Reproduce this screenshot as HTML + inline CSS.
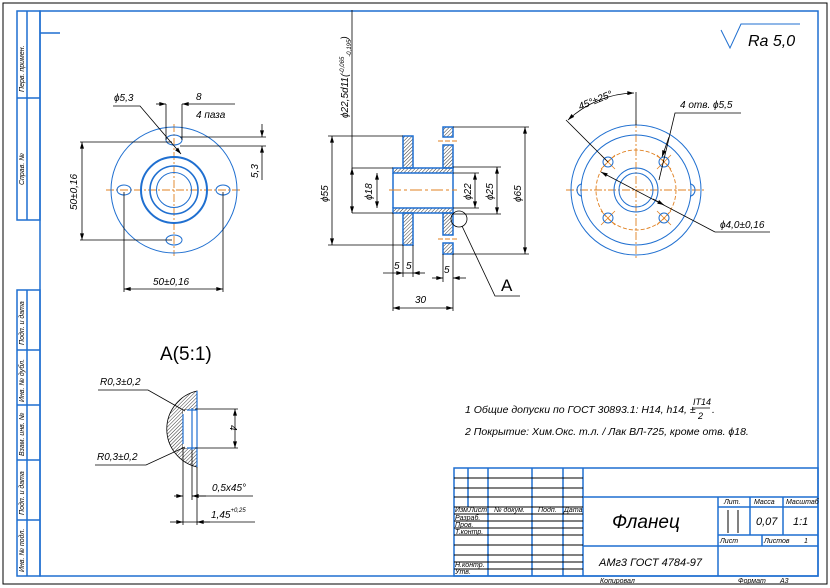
<!DOCTYPE html>
<html><head><meta charset="utf-8"><style>
html,body{margin:0;padding:0;background:#fff;}
svg{display:block;}
text{font-family:"Liberation Sans",sans-serif;font-style:italic;fill:#000;}
</style></head><body>
<svg width="830" height="588" viewBox="0 0 830 588" xmlns="http://www.w3.org/2000/svg">
<defs>
<pattern id="h" width="2.5" height="2.5" patternUnits="userSpaceOnUse" patternTransform="rotate(45)">
<line x1="0" y1="0" x2="0" y2="2.5" stroke="#000" stroke-width="0.8"/>
</pattern>
<marker id="a" viewBox="0 0 10 6" refX="10" refY="3" markerWidth="8" markerHeight="4" orient="auto-start-reverse" markerUnits="userSpaceOnUse"><path d="M0,0L10,3L0,6z" fill="#000"/></marker>
</defs>
<rect width="830" height="588" fill="#fff"/>
<rect x="3" y="3" width="824" height="581" fill="none" stroke="#000" stroke-width="1"/>
<g stroke="#1f6fd0" stroke-width="1.5" fill="none">
<rect x="40" y="11" width="778" height="565"/>
<rect x="17" y="11" width="23" height="209"/>
<line x1="27" y1="11" x2="27" y2="220"/>
<line x1="17" y1="98" x2="40" y2="98"/>
<line x1="40" y1="33" x2="60" y2="33"/>
<rect x="17" y="290" width="23" height="286"/>
<line x1="27" y1="290" x2="27" y2="576"/>
<line x1="17" y1="350" x2="40" y2="350"/>
<line x1="17" y1="405" x2="40" y2="405"/>
<line x1="17" y1="460" x2="40" y2="460"/>
<line x1="17" y1="520" x2="40" y2="520"/>
<rect x="454" y="468" width="364" height="108"/>
<line x1="583" y1="468" x2="583" y2="576"/>
<line x1="583" y1="497" x2="818" y2="497"/>
<line x1="468" y1="468" x2="468" y2="507"/>
<line x1="488" y1="468" x2="488" y2="576"/>
<line x1="532" y1="468" x2="532" y2="576"/>
<line x1="563" y1="468" x2="563" y2="576"/>
<line x1="583" y1="546" x2="818" y2="546"/>
<line x1="718" y1="497" x2="718" y2="576"/>
<line x1="750" y1="497" x2="750" y2="535"/>
<line x1="783" y1="497" x2="783" y2="535"/>
<line x1="718" y1="507" x2="818" y2="507"/>
<line x1="718" y1="535" x2="818" y2="535"/>
<line x1="762" y1="535" x2="762" y2="546"/>
</g>
<g stroke="#000" stroke-width="1">
<line x1="454" y1="478" x2="583" y2="478"/>
<line x1="454" y1="488" x2="583" y2="488"/>
<line x1="454" y1="497" x2="583" y2="497"/>
<line x1="454" y1="507" x2="583" y2="507"/>
<line x1="454" y1="514" x2="583" y2="514"/>
<line x1="454" y1="521" x2="583" y2="521"/>
<line x1="454" y1="528" x2="583" y2="528"/>
<line x1="454" y1="535" x2="583" y2="535"/>
<line x1="454" y1="545" x2="583" y2="545"/>
<line x1="454" y1="555" x2="583" y2="555"/>
<line x1="454" y1="562" x2="583" y2="562"/>
<line x1="454" y1="569" x2="583" y2="569"/>
<line x1="728" y1="510" x2="728" y2="533"/>
<line x1="738" y1="510" x2="738" y2="533"/>
</g>
<g font-size="7">
<text x="455" y="512">Изм.</text><text x="469" y="512">Лист</text><text x="494" y="512">№ докум.</text><text x="538" y="512">Подп.</text><text x="564" y="512">Дата</text>
<text x="455" y="520">Разраб.</text><text x="455" y="527">Пров.</text><text x="455" y="534">Т.контр.</text>
<text x="455" y="567">Н.контр.</text><text x="455" y="574">Утв.</text>
<text x="724" y="504">Лит.</text><text x="754" y="504">Масса</text><text x="786" y="504">Масштаб</text>
<text x="720" y="543">Лист</text><text x="764" y="543">Листов</text><text x="804" y="543">1</text>
<text x="600" y="583">Копировал</text><text x="738" y="583">Формат</text><text x="780" y="583">A3</text>
</g>
<text x="612" y="528" font-size="19">Фланец</text>
<text x="599" y="566" font-size="11">АМг3 ГОСТ 4784-97</text>
<text x="756" y="525" font-size="11">0,07</text>
<text x="793" y="525" font-size="11">1:1</text>
<g font-size="7">
<text transform="translate(24,92) rotate(-90)">Перв. примен.</text>
<text transform="translate(24,185) rotate(-90)">Справ. №</text>
<text transform="translate(24,345) rotate(-90)">Подп. и дата</text>
<text transform="translate(24,402) rotate(-90)">Инв. № дубл.</text>
<text transform="translate(24,456) rotate(-90)">Взам. инв. №</text>
<text transform="translate(24,515) rotate(-90)">Подп. и дата</text>
<text transform="translate(24,572) rotate(-90)">Инв. № подл.</text>
</g>
<path d="M721,30L730,48L741,24H800" fill="none" stroke="#1f6fd0" stroke-width="1"/>
<text x="748" y="46" font-size="16">Ra 5,0</text>

<!-- LEFT VIEW -->
<g stroke="#e08020" stroke-width="0.9" stroke-dasharray="8,2,2,2">
<line x1="106" y1="190" x2="242" y2="190"/>
<line x1="174" y1="124" x2="174" y2="256"/>
</g>
<g stroke="#1f6fd0" fill="none">
<circle cx="174" cy="190" r="63" stroke-width="1"/>
<circle cx="174" cy="190" r="33" stroke-width="2"/>
<circle cx="174" cy="190" r="24" stroke-width="1.6"/>
<circle cx="174" cy="190" r="17.5" stroke-width="1"/>
<ellipse cx="174" cy="140" rx="8" ry="5" stroke-width="1"/>
<ellipse cx="174" cy="240" rx="8" ry="5" stroke-width="1"/>
<ellipse cx="124" cy="190" rx="7" ry="5" stroke-width="1"/>
<ellipse cx="223" cy="190" rx="7" ry="5" stroke-width="1"/>
</g>
<g stroke="#000" stroke-width="0.8" fill="none">
<line x1="80" y1="142" x2="172" y2="142"/>
<line x1="80" y1="240" x2="172" y2="240"/>
<line x1="82" y1="142" x2="82" y2="240" marker-start="url(#a)" marker-end="url(#a)"/>
<line x1="124" y1="192" x2="124" y2="292"/>
<line x1="223" y1="192" x2="223" y2="292"/>
<line x1="124" y1="289" x2="223" y2="289" marker-start="url(#a)" marker-end="url(#a)"/>
<polyline points="113,106 140,106 181,154" marker-end="url(#a)"/>
<line x1="166" y1="104" x2="166" y2="140"/>
<line x1="182" y1="104" x2="182" y2="140"/>
<line x1="156" y1="104" x2="166" y2="104" marker-end="url(#a)"/>
<line x1="235" y1="104" x2="182" y2="104" marker-end="url(#a)"/>
<line x1="180" y1="137" x2="266" y2="137"/>
<line x1="180" y1="146" x2="266" y2="146"/>
<line x1="262" y1="124" x2="262" y2="137" marker-end="url(#a)"/>
<line x1="262" y1="180" x2="262" y2="146" marker-end="url(#a)"/>
</g>
<g font-size="10">
<text x="114" y="101">ϕ5,3</text>
<text x="196" y="100">8</text>
<text x="196" y="118">4 паза</text>
<text transform="translate(77,210) rotate(-90)">50±0,16</text>
<text x="153" y="285">50±0,16</text>
<text transform="translate(258,178) rotate(-90)">5,3</text>
</g>

<!-- SECTION VIEW -->
<g fill="url(#h)" stroke="#1f6fd0" stroke-width="1.5">
<rect x="393" y="168" width="60" height="5"/>
<rect x="403" y="136" width="10" height="32"/>
<rect x="443" y="127" width="10" height="10"/>
<rect x="443" y="145" width="10" height="23"/>
<rect x="393" y="208" width="60" height="5"/>
<rect x="403" y="213" width="10" height="32"/>
<rect x="443" y="213" width="10" height="22"/>
<rect x="443" y="243" width="10" height="11"/>
</g>
<g stroke="#1f6fd0" stroke-width="1.5" fill="none">
<line x1="393" y1="173" x2="393" y2="208"/>
<line x1="453" y1="173" x2="453" y2="208"/>
</g>
<g stroke="#e08020" stroke-width="1">
<line x1="389" y1="190" x2="457" y2="190" stroke-dasharray="12,3,3,3"/>
<line x1="438" y1="141" x2="457" y2="141" stroke-dasharray="5,2"/>
<line x1="438" y1="239" x2="457" y2="239" stroke-dasharray="5,2"/>
</g>
<g stroke="#000" stroke-width="0.8" fill="none">
<line x1="328" y1="136" x2="403" y2="136"/>
<line x1="328" y1="245" x2="403" y2="245"/>
<line x1="332" y1="136" x2="332" y2="245" marker-start="url(#a)" marker-end="url(#a)"/>
<line x1="352" y1="10" x2="352" y2="213"/>
<line x1="352" y1="168" x2="393" y2="168"/>
<line x1="352" y1="213" x2="393" y2="213"/>
<line x1="352" y1="168" x2="352" y2="213" marker-start="url(#a)" marker-end="url(#a)"/>
<line x1="377" y1="173" x2="377" y2="208" marker-start="url(#a)" marker-end="url(#a)"/>
<line x1="453" y1="173" x2="479" y2="173"/>
<line x1="453" y1="208" x2="479" y2="208"/>
<line x1="475" y1="173" x2="475" y2="208" marker-start="url(#a)" marker-end="url(#a)"/>
<line x1="453" y1="167" x2="501" y2="167"/>
<line x1="453" y1="214" x2="501" y2="214"/>
<line x1="497" y1="167" x2="497" y2="214" marker-start="url(#a)" marker-end="url(#a)"/>
<line x1="453" y1="127" x2="529" y2="127"/>
<line x1="453" y1="254" x2="529" y2="254"/>
<line x1="525" y1="127" x2="525" y2="254" marker-start="url(#a)" marker-end="url(#a)"/>
<line x1="393" y1="213" x2="393" y2="311"/>
<line x1="403" y1="245" x2="403" y2="277"/>
<line x1="413" y1="245" x2="413" y2="277"/>
<line x1="383" y1="273" x2="403" y2="273" marker-end="url(#a)"/>
<line x1="425" y1="273" x2="413" y2="273" marker-end="url(#a)"/>
<line x1="403" y1="273" x2="413" y2="273"/>
<line x1="443" y1="254" x2="443" y2="282"/>
<line x1="453" y1="254" x2="453" y2="311"/>
<line x1="432" y1="278" x2="443" y2="278" marker-end="url(#a)"/>
<line x1="466" y1="278" x2="453" y2="278" marker-end="url(#a)"/>
<line x1="393" y1="308" x2="453" y2="308" marker-start="url(#a)" marker-end="url(#a)"/>
<circle cx="459" cy="219" r="8"/>
<polyline points="462,226 495,296 520,296"/>
</g>
<g font-size="10">
<text transform="translate(328,202) rotate(-90)">ϕ55</text>
<text transform="translate(372,200) rotate(-90)">ϕ18</text>
<text transform="translate(471,200) rotate(-90)">ϕ22</text>
<text transform="translate(493,200) rotate(-90)">ϕ25</text>
<text transform="translate(521,202) rotate(-90)">ϕ65</text>
<text transform="translate(348,118) rotate(-90)">ϕ22,5d11(<tspan font-size="6" dy="-4">-0,065</tspan><tspan font-size="6" dy="7">-0,195</tspan><tspan dy="-3">)</tspan></text>
<text x="394" y="269">5</text><text x="406" y="269">5</text>
<text x="444" y="273">5</text>
<text x="415" y="303">30</text>
</g>
<text x="501" y="291" font-size="17" style="font-style:normal">A</text>

<!-- RIGHT VIEW -->
<g stroke="#e08020" stroke-width="0.9" fill="none">
<line x1="566" y1="190" x2="706" y2="190" stroke-dasharray="8,2,2,2"/>
<line x1="636" y1="120" x2="636" y2="260" stroke-dasharray="8,2,2,2"/>
<circle cx="636" cy="190" r="40" stroke-dasharray="4,2"/>
<path stroke-width="0.8" d="M601,155l14,14M615,155l-14,14M657,155l14,14M671,155l-14,14M601,211l14,14M615,211l-14,14M657,211l14,14M671,211l-14,14"/>
</g>
<g stroke="#1f6fd0" fill="none" stroke-width="1">
<circle cx="636" cy="190" r="65"/>
<circle cx="636" cy="190" r="55"/>
<circle cx="636" cy="190" r="22"/>
<circle cx="636" cy="190" r="17"/>
<circle cx="608" cy="162" r="5"/><circle cx="664" cy="162" r="5"/>
<circle cx="608" cy="218" r="5"/><circle cx="664" cy="218" r="5"/>
<path d="M582,184a5,6 0 0 0 0,12M690,184a5,6 0 0 1 0,12"/>
</g>
<g stroke="#000" stroke-width="0.8" fill="none">
<line x1="636" y1="92" x2="636" y2="125"/>
<line x1="566" y1="120" x2="608" y2="162"/>
<path d="M568,120A99,99 0 0 1 634,93" marker-start="url(#a)" marker-end="url(#a)"/>
<line x1="601" y1="172" x2="715" y2="232" marker-start="url(#a)"/>
<line x1="653" y1="199" x2="664" y2="205" marker-end="url(#a)"/>
<line x1="715" y1="232" x2="770" y2="232"/>
<polyline points="741,113 675,113 659,180"/>
<line x1="669" y1="137" x2="662" y2="157" marker-end="url(#a)"/>
</g>
<g font-size="10">
<text transform="translate(580,110) rotate(-22)">45°±25°</text>
<text x="680" y="108">4 отв. ϕ5,5</text>
<text x="720" y="228">ϕ4,0±0,16</text>
</g>

<!-- DETAIL A -->
<text x="160" y="360" font-size="19" style="font-style:normal">A(5:1)</text>
<path d="M197,391A39,39 0 0 0 197,467ZM183,410V448H197V410Z" fill="url(#h)" fill-rule="evenodd" stroke="#000" stroke-width="0.8"/>
<rect x="183" y="410" width="14" height="38" fill="#fff"/>
<g stroke="#1f6fd0" stroke-width="1.2" fill="none">
<line x1="197" y1="391" x2="197" y2="467"/>
<line x1="192" y1="408" x2="192" y2="450"/>
<path d="M187,410H197M187,448H197M183,414V444"/>
</g>
<g stroke="#000" stroke-width="0.8" fill="none">
<line x1="195" y1="409" x2="238" y2="409"/>
<line x1="195" y1="448" x2="238" y2="448"/>
<line x1="235" y1="409" x2="235" y2="448" marker-start="url(#a)" marker-end="url(#a)"/>
<polyline points="98,390 148,390 185,411"/>
<polyline points="95,465 146,465 185,447"/>
<line x1="183" y1="448" x2="183" y2="525"/>
<line x1="192" y1="450" x2="192" y2="500"/>
<line x1="197" y1="467" x2="197" y2="525"/>
<line x1="174" y1="496" x2="183" y2="496" marker-end="url(#a)"/>
<line x1="206" y1="496" x2="192" y2="496" marker-end="url(#a)"/>
<line x1="192" y1="496" x2="253" y2="496"/>
<line x1="170" y1="522" x2="183" y2="522" marker-end="url(#a)"/>
<line x1="210" y1="522" x2="197" y2="522" marker-end="url(#a)"/>
<line x1="183" y1="522" x2="255" y2="522"/>
</g>
<g font-size="10">
<text x="100" y="385">R0,3±0,2</text>
<text x="97" y="460">R0,3±0,2</text>
<text transform="translate(230,425) rotate(90)">4</text>
<text x="212" y="491">0,5x45°</text>
<text x="211" y="518">1,45<tspan font-size="6" dy="-6">+0,25</tspan></text>
</g>

<g font-size="10.5">
<text x="465" y="413">1 Общие допуски по ГОСТ 30893.1: H14, h14, ±</text>
<text x="693" y="405" font-size="9">IT14</text>
<line x1="692" y1="408" x2="710" y2="408" stroke="#000" stroke-width="0.8"/>
<text x="698" y="419" font-size="9">2</text>
<text x="712" y="413">.</text>
<text x="465" y="435">2 Покрытие: Хим.Окс. т.л. / Лак ВЛ-725, кроме отв. ϕ18.</text>
</g>
</svg>
</body></html>
